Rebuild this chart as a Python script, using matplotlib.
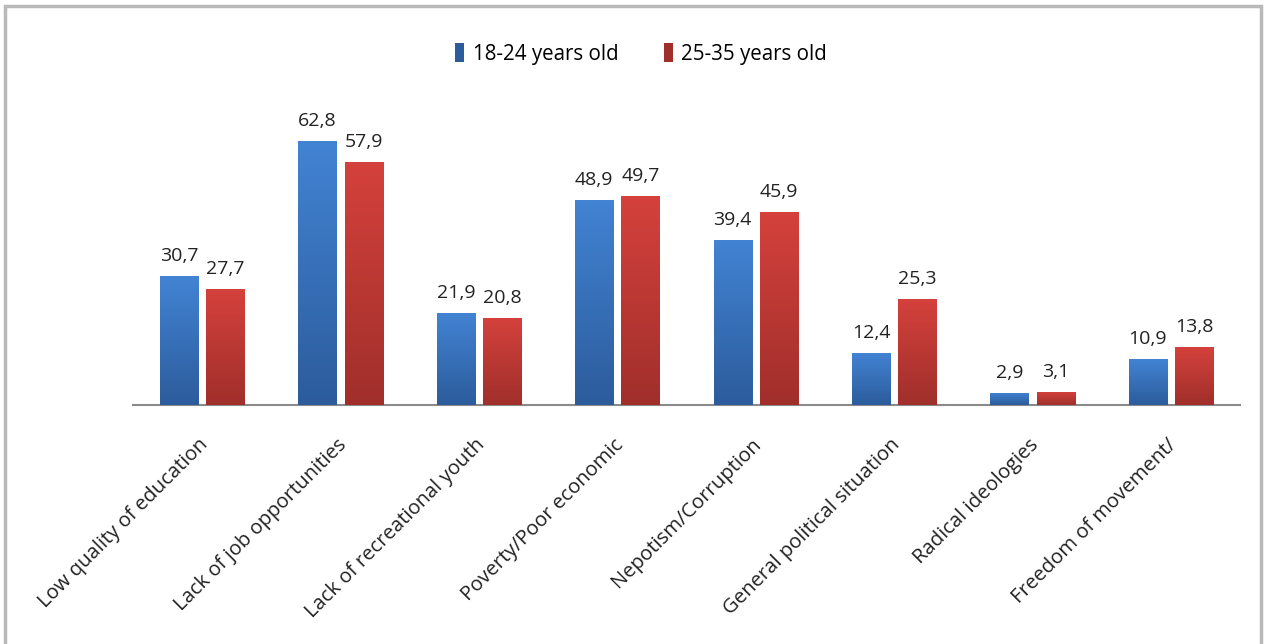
import numpy as np
import matplotlib
matplotlib.use("Agg")
import matplotlib.pyplot as plt
from matplotlib.patches import Rectangle
from matplotlib.transforms import ScaledTranslation

categories = ["Low quality of education", "Lack of job opportunities",
              "Lack of recreational youth", "Poverty/Poor economic",
              "Nepotism/Corruption", "General political situation",
              "Radical ideologies", "Freedom of movement/"]
young = [30.7, 62.8, 21.9, 48.9, 39.4, 12.4, 2.9, 10.9]
older = [27.7, 57.9, 20.8, 49.7, 45.9, 25.3, 3.1, 13.8]
series_names = ["18-24 years old", "25-35 years old"]

plt.rcParams['font.family'] = ['Open Sans', 'DejaVu Sans']

fig = plt.figure(figsize=(12.66, 6.44), dpi=100)
# outer frame of the exported chart
fig.patches.append(Rectangle((5 / 1266, -0.05), 1256 / 1266, 1.05 - 6 / 644,
                             transform=fig.transFigure, fill=False,
                             edgecolor="#b9b9b9", linewidth=2.5))

ax = fig.add_axes([133 / 1266, 1 - 405 / 644, 1107 / 1266, 294 / 644])

x = np.arange(len(categories))
w = 0.275
off = 0.167


def gradient_bars(xs, vals, top, bottom, label):
    bars = ax.bar(xs, vals, w, color=bottom, label=label, zorder=2)
    grad = np.linspace(0, 1, 100).reshape(-1, 1)
    c0 = np.array(matplotlib.colors.to_rgb(top))
    c1 = np.array(matplotlib.colors.to_rgb(bottom))
    img = c0[None, None, :] * (1 - grad[:, :, None]) + c1[None, None, :] * grad[:, :, None]
    for b in bars:
        bx, by = b.get_x(), b.get_y()
        im = ax.imshow(img, extent=(bx, bx + b.get_width(), by, by + b.get_height()),
                       aspect="auto", zorder=3, interpolation="bilinear")
        im.set_clip_path(b)
    for xi, v in zip(xs, vals):
        ax.text(xi, v + 2.6, f"{v:.1f}".replace(".", ","), ha="center", va="bottom",
                fontsize=14, color="#222222")
    return bars


gradient_bars(x - off, young, "#4283d3", "#2c5c9c", series_names[0])
gradient_bars(x + off, older, "#d5413c", "#a02f2b", series_names[1])
ax.set_xlim(-0.5, len(categories) - 0.5)
ax.set_ylim(0, 70)

for s in ["top", "left", "right"]:
    ax.spines[s].set_visible(False)
ax.spines["bottom"].set_color("#8a8a8a")
ax.spines["bottom"].set_linewidth(1.5)
ax.set_yticks([])
ax.set_xticks(x)
ax.tick_params(axis="x", length=0, pad=0)
ax.set_xticklabels(categories, rotation=45, ha="right", rotation_mode="anchor",
                   fontsize=14.6, color="#222222")
shift = ScaledTranslation(3 / 100, -37 / 100, fig.dpi_scale_trans)
for lab in ax.get_xticklabels():
    lab.set_va("center")
    lab.set_transform(lab.get_transform() + shift)

leg = fig.legend(loc="center", bbox_to_anchor=(641 / 1266, 1 - 54 / 644), ncol=2,
                 frameon=False, fontsize=14.8, handlelength=0.45, handleheight=1.0,
                 columnspacing=2.2, handletextpad=0.4)

fig.savefig("out.png", dpi=100)
